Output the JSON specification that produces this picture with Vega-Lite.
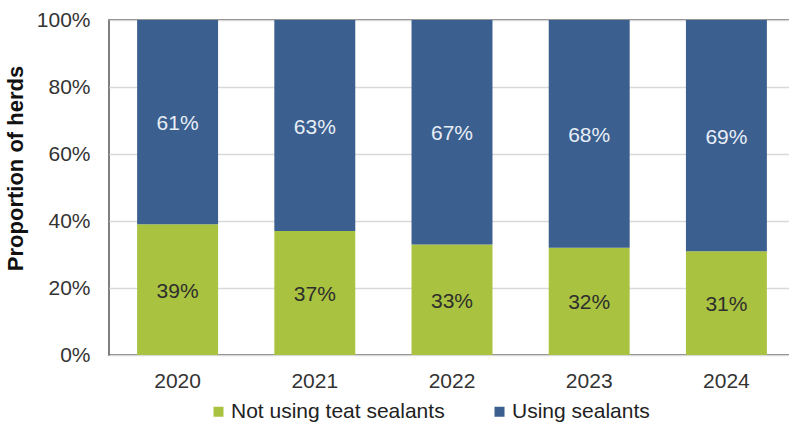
{
  "$schema": "https://vega.github.io/schema/vega-lite/v6.json",
  "autosize": {"type": "none"},
  "width": 686,
  "height": 335,
  "padding": {"left": 109, "top": 20, "right": 0, "bottom": 77},
  "background": "white",
  "config": {
    "view": {"stroke": "#555555", "strokeWidth": 1.5},
    "font": "Liberation Sans"
  },
  "data": {
    "values": [
      {"year": "2020", "status": "Not using teat sealants", "value": 0.39},
      {"year": "2020", "status": "Using sealants", "value": 0.61},
      {"year": "2021", "status": "Not using teat sealants", "value": 0.37},
      {"year": "2021", "status": "Using sealants", "value": 0.63},
      {"year": "2022", "status": "Not using teat sealants", "value": 0.33},
      {"year": "2022", "status": "Using sealants", "value": 0.67},
      {"year": "2023", "status": "Not using teat sealants", "value": 0.32},
      {"year": "2023", "status": "Using sealants", "value": 0.68},
      {"year": "2024", "status": "Not using teat sealants", "value": 0.31},
      {"year": "2024", "status": "Using sealants", "value": 0.69}
    ]
  },
  "transform": [
    {"calculate": "datum.status === 'Not using teat sealants' ? 0 : 1", "as": "ord"},
    {"stack": "value", "groupby": ["year"], "sort": [{"field": "ord", "order": "ascending"}], "as": ["v0", "v1"]},
    {"calculate": "(datum.v0 + datum.v1) / 2", "as": "mid"}
  ],
  "encoding": {
    "x": {
      "field": "year", "type": "nominal",
      "scale": {"paddingInner": 0.41, "paddingOuter": 0.205},
      "axis": {"title": null, "labelAngle": 0, "labelFontSize": 21, "labelColor": "#333333", "ticks": false, "domain": false, "labelPadding": 15}
    }
  },
  "layer": [
    {
      "mark": {"type": "bar"},
      "encoding": {
        "y": {
          "field": "v0", "type": "quantitative",
          "scale": {"domain": [0, 1]},
          "axis": {"title": "Proportion of herds", "titleFontSize": 22, "titleFontWeight": "bold", "titleColor": "#111111", "titlePadding": 9, "titleY": 148, "format": ".0%", "values": [0, 0.2, 0.4, 0.6, 0.8, 1], "labelFontSize": 21, "labelColor": "#333333", "ticks": false, "domain": false, "labelPadding": 19, "gridColor": "#d9d9d9", "gridWidth": 1.5}
        },
        "y2": {"field": "v1"},
        "color": {
          "field": "status", "type": "nominal",
          "scale": {"domain": ["Not using teat sealants", "Using sealants"], "range": ["#a9c23f", "#3b5f8e"]},
          "legend": {"title": null, "orient": "none", "legendX": 99, "legendY": 381, "direction": "horizontal", "symbolType": "square", "symbolSize": 100, "symbolStrokeWidth": 0, "labelFontSize": 21, "labelColor": "#222222", "labelLimit": 400, "columnPadding": 44, "labelOffset": 2}
        }
      }
    },
    {
      "mark": {"type": "text", "fontSize": 21, "dy": 2},
      "encoding": {
        "y": {"field": "mid", "type": "quantitative"},
        "text": {"field": "value", "type": "quantitative", "format": ".0%"},
        "color": {
          "condition": {"test": "datum.status === 'Using sealants'", "value": "#e8eef7"},
          "value": "#2e2e2e"
        }
      }
    }
  ]
}
